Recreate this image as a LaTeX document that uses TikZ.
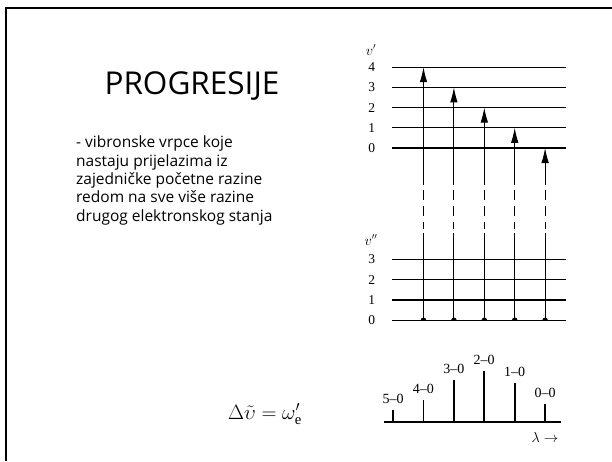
\documentclass[tikz,border=0pt]{standalone}
\usepackage{fontspec}
\setmainfont{Liberation Serif}
\newfontfamily\slidefont{Open Sans}
\usetikzlibrary{arrows.meta}

\begin{document}
\begin{tikzpicture}[x=1pt,y=-1pt,
  level/.style={line width=1.3pt},
  trans/.style={line width=0.9pt},
  bar/.style={line width=1.8pt},
  num/.style={font=\fontsize{13.5}{13.5}\selectfont,inner sep=0pt},
  band/.style={font=\fontsize{14}{14}\selectfont,inner sep=0pt}]
\useasboundingbox (0,0) rectangle (612,461);
\draw[line width=2pt] (612,8) -- (6,8) -- (6,461);

% left side text
\node[font=\slidefont\fontsize{31.5}{34}\selectfont] (title) at (192,86.5) {PROGRESIJE};
\node[font=\slidefont\fontsize{15.5}{18.3}\selectfont,align=left,anchor=north west,inner sep=0pt] (desc) at (76,136)
  {- vibronske vrpce koje\\ nastaju prijelazima iz\\ zajedničke početne razine\\ redom na sve više razine\\ drugog elektronskog stanja};
\node[font=\fontsize{21}{24}\selectfont,inner sep=1pt] (form) at (265,414) {$\Delta\tilde{\upsilon}=\omega'_{\mathrm{e}}$};

% upper state levels
\node[num] (vup) at (371,50) {$v'$};
\foreach \n in {0,...,4}{
  \coordinate (ua\n) at (392,148-20.2*\n);
  \coordinate (ub\n) at (566,148-20.2*\n);
  \draw[level] (ua\n) -- (ub\n);
  \node[num] (un\n) at (371.7,148-20.2*\n) {\n};
}

% lower state levels
\node[num] (vlo) at (371,240) {$v''$};
\foreach \n in {0,...,3}{
  \coordinate (la\n) at (392,320.3-20.3*\n);
  \coordinate (lb\n) at (566,320.3-20.3*\n);
  \draw[level] (la\n) -- (lb\n);
  \node[num] (ln\n) at (371.7,320.3-20.3*\n) {\n};
}

% transitions from v''=0
\foreach \i in {0,...,4}{
  \pgfmathsetmacro{\xa}{423.5+30.4*\i}
  \pgfmathtruncatemacro{\up}{4-\i}
  \coordinate (b\i) at (\xa,320.3);
  \coordinate (t\i) at (\xa,148-20.2*\up);
  \draw[trans] (b\i) -- (\xa,233);
  \draw[trans,dash pattern=on 10pt off 6pt] (\xa,190) -- (\xa,229);
  \draw[trans,-{Latex[length=15pt,width=7.5pt]}] (\xa,185) -- (t\i);
  \fill (\xa-2.8,320.3) arc[start angle=180,end angle=360,radius=2.8];
}

% spectrum
\coordinate (sa) at (384.3,422.3);
\coordinate (sb) at (560.7,422.3);
\draw[bar] (sa) -- (sb);
\foreach \j/\h in {0/404,1/382.7,2/371,3/380,4/400,5/410}{
  \draw[bar] (545-30.4*\j,422.3) -- (545-30.4*\j,\h) node[band,above=5pt] (s\j) {\j--0};
}
\node[band] (lam) at (545,437) {$\lambda\rightarrow$};
\end{tikzpicture}
\end{document}
